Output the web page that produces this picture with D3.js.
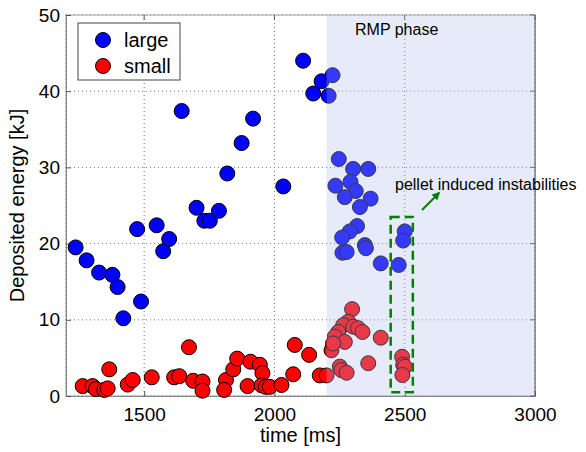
<!DOCTYPE html>
<html>
<head>
<meta charset="utf-8">
<script src="https://cdn.jsdelivr.net/npm/d3@7"></script>
<style>
  body { margin: 0; background: #fff; }
  text { font-family: "Liberation Sans", Arial, sans-serif; fill: #000; }
</style>
</head>
<body>
<div id="chart"></div>
<script>
// large events
var largeTime = [1237, 1279, 1327, 1378, 1398, 1420, 1473, 1488, 1548, 1573,
  1596, 1644, 1701, 1731, 1752, 1787, 1819, 1874, 1918, 2034,
  2110, 2149, 2181, 2208, 2223, 2247, 2302, 2360, 2234, 2292,
  2312, 2270, 2369, 2328, 2317, 2289, 2260, 2347, 2351, 2261,
  2277, 2500, 2494, 2408, 2477];
var largeEnergy = [19.5, 17.8, 16.2, 15.9, 14.3, 10.2, 21.9, 12.4, 22.4, 19.0,
  20.6, 37.4, 24.7, 23.0, 23.0, 24.3, 29.2, 33.2, 36.4, 27.5,
  44.0, 39.7, 41.3, 39.4, 42.1, 31.1, 29.8, 29.8, 27.6, 28.1,
  26.9, 26.1, 25.9, 24.8, 22.3, 21.6, 20.8, 19.8, 19.4, 18.8,
  18.9, 21.6, 20.4, 17.4, 17.2];

// small events
var smallTime = [1264, 1302, 1315, 1347, 1360, 1366, 1437, 1456, 1529, 1615,
  1635, 1672, 1688, 1724, 1724, 1814, 1807, 1842, 1857, 1897,
  1908, 1944, 1954, 1951, 1967, 1982, 2027, 2072, 2078, 2133,
  2174, 2200, 2219, 2298, 2283, 2264, 2302, 2321, 2338, 2245,
  2232, 2270, 2225, 2408, 2251, 2257, 2277, 2360, 2490, 2494,
  2500, 2491];
var smallEnergy = [1.3, 1.3, 0.9, 0.8, 1.0, 3.5, 1.5, 2.1, 2.45, 2.45,
  2.6, 6.4, 2.0, 1.9, 0.7, 2.1, 0.8, 3.5, 4.9, 1.3,
  4.5, 4.1, 3.0, 1.4, 1.2, 1.2, 1.45, 2.85, 6.7, 5.4,
  2.7, 2.7, 6.0, 11.4, 9.75, 9.3, 9.1, 8.9, 8.4, 8.4,
  7.8, 7.1, 6.9, 7.65, 3.85, 3.4, 3.05, 4.3, 5.15, 4.1,
  3.85, 2.75];

var xTicks = [1500, 2000, 2500, 3000];
var yTicks = [0, 10, 20, 30, 40, 50];
var seriesNames = ["large", "small"];
var seriesColors = ["#0000ff", "#ff0000"];
var rmpStart = 2200;
var pelletBox = [2450, 2535, 0.5, 23.5]; // t0, t1, e0, e1

var margin = { top: 15, right: 51, bottom: 56, left: 66 },
  width = 586 - margin.left - margin.right,
  height = 452 - margin.top - margin.bottom;

var svg = d3.select("#chart")
  .append("svg")
  .attr("width", 586)
  .attr("height", 452)
  .append("g")
  .attr("transform", "translate(" + margin.left + "," + margin.top + ")");

var x = d3.scaleLinear().domain([1200, 3000]).range([0, width]);
var y = d3.scaleLinear().domain([0, 50]).range([height, 0]);

// box
svg.append("rect")
  .attr("width", width)
  .attr("height", height)
  .attr("fill", "none")
  .attr("stroke", "#aaa");

// grid
svg.append("g").selectAll("line").data(xTicks.concat([1200])).enter().append("line")
  .attr("x1", d => x(d)).attr("x2", d => x(d))
  .attr("y1", 0).attr("y2", height)
  .attr("stroke", "#777").attr("stroke-dasharray", "1,3");
svg.append("g").selectAll("line").data(yTicks).enter().append("line")
  .attr("x1", 0).attr("x2", width)
  .attr("y1", d => y(d)).attr("y2", d => y(d))
  .attr("stroke", "#777").attr("stroke-dasharray", "1,3");

// axes
var xAxis = svg.append("g")
  .attr("transform", "translate(0," + height + ")")
  .call(d3.axisBottom(x).tickValues(xTicks).tickSize(-5).tickPadding(12).tickFormat(d3.format("d")));
var yAxis = svg.append("g")
  .call(d3.axisLeft(y).tickValues(yTicks).tickSize(-5).tickPadding(6));
[xAxis, yAxis].forEach(function (a) {
  a.select(".domain").attr("stroke", "#888");
  a.selectAll(".tick line").attr("stroke", "#555");
  a.selectAll(".tick text")
    .style("font-family", "'Liberation Sans', Arial, sans-serif")
    .style("font-size", "19px").attr("fill", "#000");
});
// ticks on top and right
svg.append("g").selectAll("line").data(xTicks).enter().append("line")
  .attr("x1", d => x(d)).attr("x2", d => x(d)).attr("y1", 0).attr("y2", 5)
  .attr("stroke", "#555");
svg.append("g").selectAll("line").data(yTicks).enter().append("line")
  .attr("x1", width).attr("x2", width - 5).attr("y1", d => y(d)).attr("y2", d => y(d))
  .attr("stroke", "#555");
svg.append("line")
  .attr("x1", width).attr("x2", width).attr("y1", 0).attr("y2", height)
  .attr("stroke", "#555");

// points
function drawSeries(tt, ee, color) {
  svg.append("g").selectAll("circle")
    .data(tt.map((t, i) => [t, ee[i]]))
    .enter().append("circle")
    .attr("cx", d => x(d[0]))
    .attr("cy", d => y(d[1]))
    .attr("r", 7.5)
    .attr("fill", color)
    .attr("stroke", "#000")
    .attr("stroke-width", 1);
}
drawSeries(largeTime, largeEnergy, seriesColors[0]);
drawSeries(smallTime, smallEnergy, seriesColors[1]);

// RMP phase shading, laid over the points
svg.append("rect")
  .attr("x", x(rmpStart))
  .attr("y", 0)
  .attr("width", x(3000) - x(rmpStart))
  .attr("height", height)
  .attr("fill", "rgb(175,190,235)")
  .attr("fill-opacity", 0.3);

svg.append("text")
  .attr("x", 289)
  .attr("y", 20)
  .style("font-size", "16px")
  .text("RMP phase");

// pellet box and arrow
svg.append("rect")
  .attr("x", x(pelletBox[0]) - 1)
  .attr("y", y(pelletBox[3]))
  .attr("width", x(pelletBox[1]) - x(pelletBox[0]))
  .attr("height", y(pelletBox[2]) - y(pelletBox[3]))
  .attr("fill", "none")
  .attr("stroke", "#008000")
  .attr("stroke-width", 2.5)
  .attr("stroke-dasharray", "9,5");

svg.append("defs").append("marker")
  .attr("id", "arr")
  .attr("viewBox", "0 0 10 10")
  .attr("refX", 8).attr("refY", 5)
  .attr("markerWidth", 4).attr("markerHeight", 4)
  .attr("orient", "auto")
  .append("path").attr("d", "M0,0L10,5L0,10z").attr("fill", "#008000");
svg.append("line")
  .attr("x1", 356).attr("y1", 195)
  .attr("x2", 373).attr("y2", 178)
  .attr("stroke", "#008000")
  .attr("stroke-width", 2)
  .attr("marker-end", "url(#arr)");

svg.append("text")
  .attr("x", 329)
  .attr("y", 175)
  .style("font-size", "16px")
  .text("pellet induced instabilities");

// axis labels
svg.append("text")
  .attr("x", width / 2)
  .attr("y", height + 46)
  .attr("text-anchor", "middle")
  .style("font-size", "20px")
  .text("time [ms]");
svg.append("text")
  .attr("transform", "translate(-42," + (height / 2) + ") rotate(-90)")
  .attr("text-anchor", "middle")
  .style("font-size", "20px")
  .text("Deposited energy [kJ]");

// legend
var legend = svg.append("g").attr("transform", "translate(12,8)");
legend.append("rect")
  .attr("width", 102).attr("height", 57)
  .attr("fill", "#fff").attr("stroke", "#444");
seriesNames.forEach(function (n, i) {
  legend.append("circle")
    .attr("cx", 25).attr("cy", 17 + i * 26).attr("r", 7.5)
    .attr("fill", seriesColors[i]).attr("stroke", "#000");
  legend.append("text")
    .attr("x", 46).attr("y", 24 + i * 26)
    .style("font-size", "20px")
    .text(n);
});
</script>
</body>
</html>
